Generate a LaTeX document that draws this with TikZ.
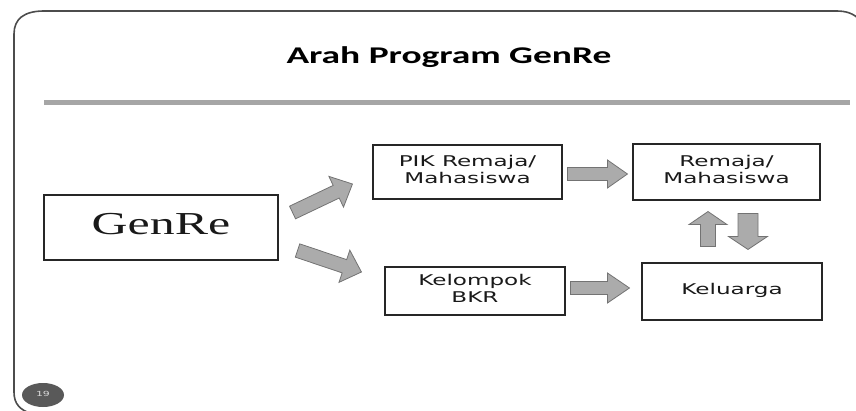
\documentclass[tikz,border=0pt]{standalone}
\usepackage{fontspec}
\usepackage{graphicx}
\usetikzlibrary{calc,shapes.geometric}
\newfontfamily\titlefont{Carlito}
\newfontfamily\boxfont{DejaVu Sans}
\newfontfamily\genrefont{Liberation Serif}
\def\wide#1{\scalebox{1.56}[1]{\begin{tabular}{@{}c@{}}#1\end{tabular}}}
\def\fatarrow(#1)(#2)[#3:#4:#5]{%
	\coordinate (hb) at ($(#2)!#5!(#1)$);
	\draw[blockarrow] ($(#1)!#3!90:(#2)$) -- ($(hb)!#3!90:(#2)$) -- ($(hb)!#4!90:(#2)$) -- (#2)
		-- ($(hb)!#4!-90:(#2)$) -- ($(hb)!#3!-90:(#2)$) -- ($(#1)!#3!-90:(#2)$) -- cycle;}
\tikzset{
	box/.style={draw=black!85, line width=1.1pt, inner sep=0pt, text=black!90, font=\boxfont\fontsize{14.8}{17}\selectfont},
	blockarrow/.style={fill=black!33, draw=black!55, line width=0.8pt},
	frame/.style={draw=black!70, line width=1.6pt},
	sepline/.style={draw=black!35, line width=5pt}
}

\begin{document}
\begin{tikzpicture}[x=1pt, y=-1pt]
			%%%%% START %%%%%
			
			\useasboundingbox (0, 0) rectangle (856, 411);
			\clip (0, 0) rectangle (856, 411);
			
			\draw[frame] (860, 20) .. controls (853, 13) and (846, 11) .. (836, 11) -- (44, 11)
				.. controls (24, 11) and (14, 19) .. (14, 34) -- (14, 392)
				.. controls (14, 404) and (20, 410) .. (32, 414);
			
			\node (title) at (449, 58) {\titlefont\bfseries\fontsize{24}{28}\selectfont\wide{Arah Program GenRe}};
			\draw[sepline] (44, 103) -- (850, 103);
			
			\node[box, minimum width=234pt, minimum height=65pt] (genre) at (161, 227.5) {\genrefont\fontsize{32}{36}\selectfont\wide{GenRe}};
			\node[box, minimum width=189pt, minimum height=54pt] (pik) at (467.5, 172) {\wide{PIK Remaja/\\Mahasiswa}};
			\node[box, minimum width=187pt, minimum height=56pt] (remaja) at (726.5, 172) {\wide{Remaja/\\Mahasiswa}};
			\node[box, minimum width=180pt, minimum height=48pt] (kelompok) at (475, 291) {\wide{Kelompok\\BKR}};
			\node[box, minimum width=180pt, minimum height=57pt] (keluarga) at (732, 291.5) {\wide{Keluarga}};
			
			\coordinate (a1) at ($(genre.east)+(14, -15)$);
			\coordinate (a2) at ($(pik.west)+(-20, 12)$);
			\coordinate (b1) at ($(genre.east)+(19, 23)$);
			\coordinate (b2) at ($(kelompok.west)+(-23, -19)$);
			\coordinate (c1) at ($(pik.east)+(5, 2)$);
			\coordinate (c2) at ($(remaja.west)+(-5, 2)$);
			\coordinate (d1) at ($(kelompok.east)+(5, -3)$);
			\coordinate (d2) at ($(keluarga.west)+(-12, -3.5)$);
			\coordinate (e1) at ($(keluarga.north)+(-24, -16)$);
			\coordinate (e2) at ($(remaja.south)+(-18.5, 11)$);
			\coordinate (f1) at ($(remaja.south)+(21.5, 13)$);
			\coordinate (f2) at ($(keluarga.north)+(16, -13)$);
			
			\fatarrow(a1)(a2)[7pt:17pt:18pt];
			\fatarrow(b1)(b2)[7pt:17pt:18pt];
			\fatarrow(c1)(c2)[6.5pt:14pt:20pt];
			\fatarrow(d1)(d2)[6.5pt:15pt:22pt];
			\fatarrow(e1)(e2)[7.5pt:19pt:13pt];
			\fatarrow(f1)(f2)[10pt:19.5pt:13pt];
			
			\node[ellipse, fill=black!65, minimum width=42pt, minimum height=24pt, inner sep=0pt, text=white!85!black,
				font=\boxfont\fontsize{7}{8}\selectfont] (page) at (43, 395) {\wide{19}};
			
			%%%%% END %%%%%
\end{tikzpicture}
\end{document}
